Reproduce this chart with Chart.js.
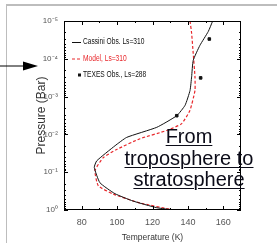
<!DOCTYPE html>
<html>
<head>
<meta charset="utf-8">
<script src="https://cdn.jsdelivr.net/npm/chart.js@4.4.0/dist/chart.umd.min.js"></script>
<style>
  html, body { margin:0; padding:0; background:#fff; }
  #wrap { position:relative; width:277px; height:243px; overflow:hidden; }
  #frame { position:absolute; left:6px; top:4px; right:-5px; bottom:-5px; border-top:2px solid #bdbdbd; border-left:1px solid #bdbdbd; }
  #chart { position:absolute; left:0; top:0; }
  #note { position:absolute; left:119px; top:126px; width:140px; text-align:center;
          font-family:'Liberation Sans', Arial, sans-serif; font-size:20px; line-height:21.5px;
          color:#0b0b18; text-decoration:underline; text-decoration-thickness:1px; text-underline-offset:2px; }
  #arrow { position:absolute; left:0; top:60px; }
</style>
</head>
<body>
<div id="wrap">
  <div id="frame"></div>
  <canvas id="chart" width="277" height="243"></canvas>
  <svg id="arrow" width="40" height="12">
    <line x1="0" y1="6" x2="26" y2="6" stroke="#000" stroke-width="1"/>
    <polygon points="23,1.5 38,6 23,10.5" fill="#000"/>
  </svg>
  <div id="note">From<br>troposphere to<br>stratosphere</div>
</div>
<script>
// Cassini observations, Ls=310
const cassiniT = [154, 151.5, 146.8, 143, 142.1, 141.2, 138.4, 133.7, 122.4, 105.4, 98.8, 88.5, 87.1, 90.3, 98.8, 109, 122.4, 132];
const cassiniP = [1e-5, 1.9e-5, 4.4e-5, 1.1e-4, 3e-4, 6.9e-4, 1.7e-3, 3.2e-3, 6.5e-3, 1.2e-2, 2e-2, 5e-2, 7.5e-2, 0.19, 0.37, 0.58, 0.87, 1.0];
// Model, Ls=310
const modelT = [141.2, 142.1, 143, 144, 144, 141.2, 136.5, 128, 112.9, 99.8, 92.2, 87.5, 89.4, 97.9, 112.9, 131.8];
const modelP = [1e-5, 2.1e-5, 7.2e-5, 3e-4, 6.9e-4, 2.3e-3, 5.2e-3, 7.9e-3, 1.3e-2, 2.5e-2, 4.1e-2, 9.1e-2, 0.23, 0.38, 0.65, 1.0];
// TEXES observations, Ls=288
const texesT = [152.1, 147.2, 133.7];
const texesP = [3e-5, 3.2e-4, 3.2e-3];

const tempTicks = [80, 100, 120, 140, 160];
const presTicks = [1e-5, 1e-4, 1e-3, 1e-2, 1e-1, 1];

const FONT = "'Liberation Sans', Arial, sans-serif";
const sup = {'-':'⁻','0':'⁰','1':'¹','2':'²','3':'³','4':'⁴','5':'⁵'};

function pts(xs, ys){ return xs.map((x, i) => ({x: x, y: ys[i]})); }

// inward ticks + box
const frameTicks = {
  id: 'frameTicks',
  afterDatasetsDraw(chart){
    const {ctx, chartArea: a, scales: {x, y}} = chart;
    ctx.save();
    ctx.strokeStyle = '#000';
    ctx.lineWidth = 1;
    ctx.strokeRect(a.left + 0.5, a.top + 0.5, a.right - a.left - 1, a.bottom - a.top - 1);
    ctx.beginPath();
    for (let e = -5; e <= 0; e++) {
      for (let m = 1; m <= 9; m++) {
        const v = m * Math.pow(10, e);
        if (v > 1) break;
        const py = Math.round(y.getPixelForValue(v)) + 0.5;
        const len = m === 1 ? 4 : 2;
        ctx.moveTo(a.left, py); ctx.lineTo(a.left + len, py);
        ctx.moveTo(a.right, py); ctx.lineTo(a.right - len, py);
      }
    }
    for (let t = 80; t <= 160; t += 10) {
      const px = Math.round(x.getPixelForValue(t)) + 0.5;
      const len = t % 20 === 0 ? 4 : 2;
      ctx.moveTo(px, a.bottom); ctx.lineTo(px, a.bottom - len);
      ctx.moveTo(px, a.top); ctx.lineTo(px, a.top + len);
    }
    ctx.stroke();
    ctx.restore();
  }
};

// legend inside the plot, top-left (narrow text like the original)
const innerLegend = {
  id: 'innerLegend',
  afterDraw(chart){
    const {ctx, chartArea: a} = chart;
    ctx.save();
    ctx.font = '8.5px ' + FONT;
    ctx.textBaseline = 'middle';
    chart.data.datasets.forEach((ds, i) => {
      const yy = a.top + 21 + i * 16.5;
      const x0 = a.left + 8;
      ctx.strokeStyle = ds.borderColor;
      ctx.fillStyle = ds.borderColor;
      if (ds.showLine === false) {
        ctx.fillRect(x0 + 6, yy - 1.5, 3, 3);
      } else {
        ctx.lineWidth = 1;
        ctx.setLineDash(ds.borderDash || []);
        ctx.beginPath(); ctx.moveTo(x0, yy + 0.5); ctx.lineTo(x0 + 9, yy + 0.5); ctx.stroke();
        ctx.setLineDash([]);
      }
      ctx.save();
      ctx.translate(x0 + 11, yy);
      ctx.scale(0.78, 1);
      ctx.fillText(ds.label, 0, 0);
      ctx.restore();
    });
    ctx.restore();
  }
};

new Chart(document.getElementById('chart'), {
  type: 'line',
  data: {
    datasets: [
      { label: 'Cassini Obs. Ls=310', data: pts(cassiniT, cassiniP), borderColor: '#111', borderWidth: 1, pointRadius: 0, tension: 0.15, fill: false },
      { label: 'Model, Ls=310', data: pts(modelT, modelP), borderColor: '#e8262a', borderWidth: 1.2, borderDash: [3, 2], pointRadius: 0, tension: 0.15, fill: false },
      { label: 'TEXES Obs., Ls=288', data: pts(texesT, texesP), borderColor: '#111', backgroundColor: '#111', showLine: false, pointStyle: 'rect', pointRadius: 1.8 }
    ]
  },
  options: {
    responsive: false,
    animation: false,
    layout: { padding: { left: 34, right: 36, top: 21, bottom: 0 } },
    plugins: { legend: { display: false }, tooltip: { enabled: false } },
    scales: {
      x: {
        type: 'linear', min: 70, max: 170,
        afterBuildTicks: s => { s.ticks = tempTicks.map(v => ({value: v})); },
        afterFit: s => { s.height = 33; },
        grid: { display: false, drawTicks: false },
        border: { display: false },
        ticks: { color: '#555', padding: 7, font: { family: FONT, size: 9 } },
        title: { display: true, text: 'Temperature (K)', color: '#333', padding: 0, font: { family: FONT, size: 8.5 } }
      },
      y: {
        type: 'logarithmic', min: 1e-5, max: 1, reverse: true,
        afterBuildTicks: s => { s.ticks = presTicks.map(v => ({value: v})); },
        afterFit: s => { s.width = 30; },
        grid: { display: false, drawTicks: false },
        border: { display: false },
        ticks: {
          color: '#555', padding: 6, font: { family: FONT, size: 8 },
          callback: v => '10' + String(Math.round(Math.log10(v))).split('').map(c => sup[c]).join('')
        },
        title: { display: true, text: 'Pressure (Bar)', color: '#333', padding: 0, font: { family: FONT, size: 12 } }
      }
    }
  },
  plugins: [frameTicks, innerLegend]
});
</script>
</body>
</html>
